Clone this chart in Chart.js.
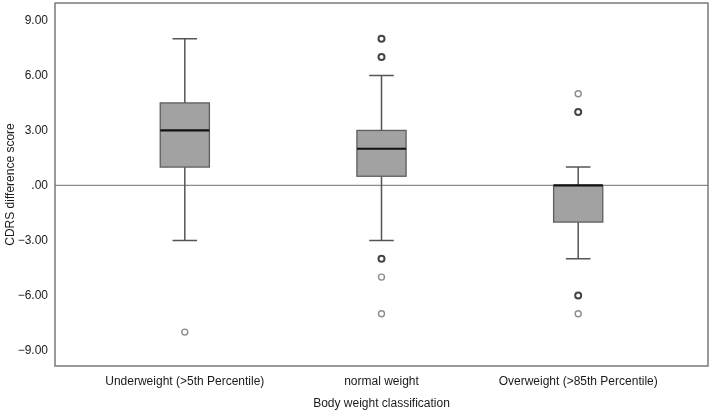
<!DOCTYPE html>
<html>
<head>
<meta charset="utf-8">
<script src="https://cdn.jsdelivr.net/npm/chart.js@4.4.0/dist/chart.umd.min.js"></script>
<style>
  html, body { margin: 0; padding: 0; background: #fff; }
  #wrap { width: 709px; height: 413px; }
</style>
</head>
<body>
<div id="wrap"><canvas id="c"></canvas></div>
<script>
// categories and box statistics
const groups = ['Underweight (>5th Percentile)', 'normal weight', 'Overweight (>85th Percentile)'];
const whiskerLow = [-3, -3, -4];
const q1 = [1, 0.5, -2];
const median = [3, 2, 0];
const q3 = [4.5, 3, 0];
const whiskerHigh = [8, 6, 1];

// outliers: group index, value, how many cases sit on it
const outlierGroup = [0, 1, 1, 1, 1, 1, 2, 2, 2, 2];
const outlierValue = [-8, 8, 7, -4, -5, -7, 5, 4, -6, -7];
const outlierCount = [1, 2, 2, 2, 1, 1, 1, 2, 2, 1];

const yTicks = [-9, -6, -3, 0, 3, 6, 9];

const fmt = v => {
  if (v === 0) return '.00';
  const s = Math.abs(v).toFixed(2);
  return v < 0 ? '\u2212' + s : s;
};

const boxPlugin = {
  id: 'boxes',
  beforeDatasetsDraw(chart) {
    const ctx = chart.ctx;
    const x = chart.scales.x, y = chart.scales.y;
    const a = chart.chartArea;
    ctx.save();
    // zero reference line
    ctx.strokeStyle = '#8a8a8a';
    ctx.lineWidth = 1.2;
    ctx.beginPath();
    ctx.moveTo(a.left, y.getPixelForValue(0));
    ctx.lineTo(a.right, y.getPixelForValue(0));
    ctx.stroke();

    groups.forEach((g, i) => {
      const cx = x.getPixelForValue(i);
      const half = x.getPixelForValue(i + 0.125) - cx;
      const cap = half / 2;
      const pLow = y.getPixelForValue(whiskerLow[i]);
      const pQ1 = y.getPixelForValue(q1[i]);
      const pMed = y.getPixelForValue(median[i]);
      const pQ3 = y.getPixelForValue(q3[i]);
      const pHigh = y.getPixelForValue(whiskerHigh[i]);

      ctx.strokeStyle = '#555';
      ctx.lineWidth = 1.5;
      ctx.beginPath();
      ctx.moveTo(cx, pLow); ctx.lineTo(cx, pQ1);
      ctx.moveTo(cx, pQ3); ctx.lineTo(cx, pHigh);
      ctx.moveTo(cx - cap, pLow); ctx.lineTo(cx + cap, pLow);
      ctx.moveTo(cx - cap, pHigh); ctx.lineTo(cx + cap, pHigh);
      ctx.stroke();

      ctx.fillStyle = '#a2a2a2';
      ctx.fillRect(cx - half, pQ3, half * 2, pQ1 - pQ3);
      ctx.strokeStyle = '#5e5e5e';
      ctx.lineWidth = 1.3;
      ctx.strokeRect(cx - half, pQ3, half * 2, pQ1 - pQ3);

      ctx.strokeStyle = '#111';
      ctx.lineWidth = 2.2;
      ctx.beginPath();
      ctx.moveTo(cx - half, pMed); ctx.lineTo(cx + half, pMed);
      ctx.stroke();
    });
    ctx.restore();
  },
  afterDatasetsDraw(chart) {
    const ctx = chart.ctx;
    const a = chart.chartArea;
    ctx.save();
    ctx.strokeStyle = '#7a7a7a';
    ctx.lineWidth = 1.5;
    ctx.strokeRect(a.left, a.top, a.right - a.left, a.bottom - a.top);
    ctx.restore();
  }
};

const points = outlierValue.map((v, i) => ({ x: outlierGroup[i], y: v }));

new Chart(document.getElementById('c'), {
  type: 'scatter',
  data: {
    datasets: [{
      data: points,
      pointRadius: 3,
      pointHoverRadius: 3,
      pointBorderWidth: outlierCount.map(n => n > 1 ? 2 : 1.4),
      pointBorderColor: outlierCount.map(n => n > 1 ? '#444' : '#8c8c8c'),
      pointBackgroundColor: '#fff'
    }]
  },
  options: {
    responsive: true,
    maintainAspectRatio: false,
    animation: false,
    layout: { autoPadding: false, padding: { top: 3, right: 1, left: 0, bottom: 0 } },
    plugins: { legend: { display: false }, tooltip: { enabled: false } },
    scales: {
      x: {
        type: 'linear',
        min: -0.66,
        max: 2.66,
        afterBuildTicks: s => { s.ticks = groups.map((g, i) => ({ value: i })); },
        afterFit: s => { s.height = 47; s.paddingLeft = 0; s.paddingRight = 0; },
        grid: { display: false, drawTicks: false },
        border: { display: false },
        ticks: {
          padding: 8,
          color: '#1a1a1a',
          font: { family: 'Liberation Sans', size: 12 },
          callback: v => groups[v]
        },
        title: {
          display: true,
          text: 'Body weight classification',
          color: '#1a1a1a',
          font: { family: 'Liberation Sans', size: 12 },
          padding: { top: 8, bottom: 2 }
        }
      },
      y: {
        min: -9.85,
        max: 9.95,
        afterBuildTicks: s => { s.ticks = yTicks.map(v => ({ value: v })); },
        afterFit: s => { s.width = 55; s.paddingTop = 0; s.paddingBottom = 0; },
        grid: { display: false, drawTicks: false },
        border: { display: false },
        ticks: {
          padding: 7,
          color: '#1a1a1a',
          font: { family: 'Liberation Sans', size: 12 },
          callback: v => fmt(v)
        },
        title: {
          display: true,
          text: 'CDRS difference score',
          color: '#1a1a1a',
          font: { family: 'Liberation Sans', size: 12 },
          padding: { top: 3, bottom: 0 }
        }
      }
    }
  },
  plugins: [boxPlugin]
});
</script>
</body>
</html>
